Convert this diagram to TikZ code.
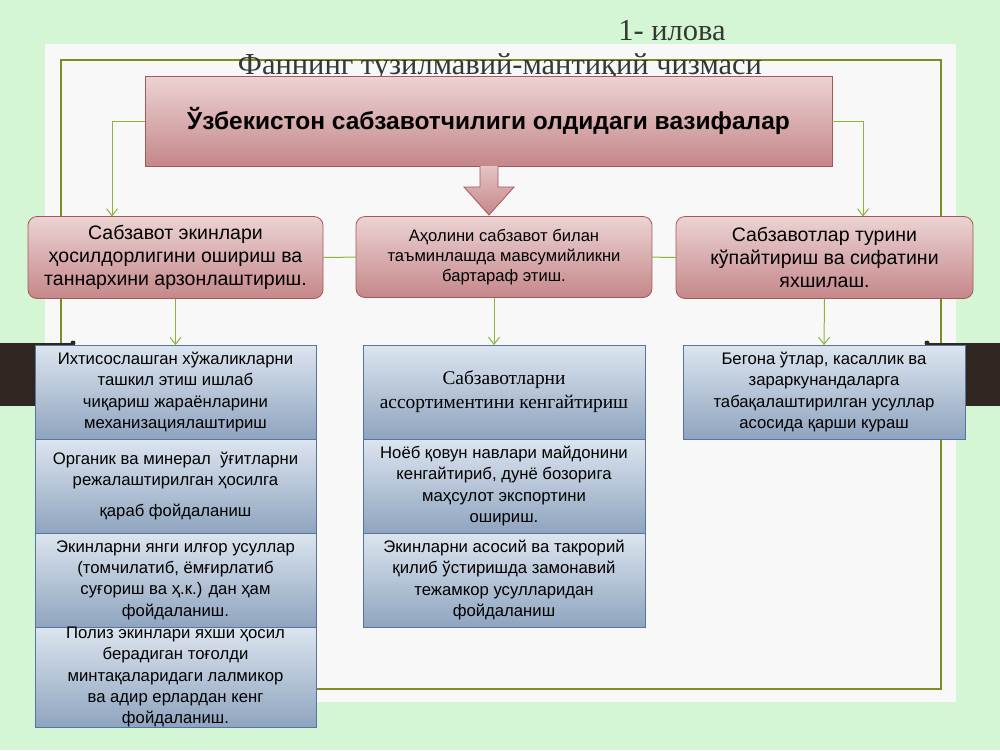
\documentclass[tikz,border=0pt]{standalone}
\usepackage{fontspec}
\setmainfont{Liberation Sans}
\newfontfamily\titlefont{Liberation Serif}
\usetikzlibrary{positioning,arrows.meta}
\definecolor{bgclr}{HTML}{D5F6D5}
\definecolor{panelclr}{HTML}{F8F8F8}
\definecolor{frameclr}{HTML}{7F8C22}
\definecolor{linkclr}{HTML}{8DB43A}
\definecolor{barclr}{HTML}{2F2621}
\definecolor{pinktop}{HTML}{ECD3D3}
\definecolor{pinkbot}{HTML}{C5878A}
\definecolor{pinkline}{HTML}{A5575A}
\definecolor{bluetop}{HTML}{DCE5EF}
\definecolor{bluebot}{HTML}{8FA4BF}
\definecolor{blueline}{HTML}{5475A0}
\definecolor{headclr}{HTML}{333A33}
\tikzset{ %
  ,>={Straight Barb[length=7pt,width=11pt,line width=1pt]}
  ,goal/.style={draw=pinkline, line width=0.8pt, top color=pinktop, bottom color=pinkbot, inner sep=0, outer sep=0, font=\fontsize{24.5}{28}\selectfont\bfseries}
  ,task/.style={draw=pinkline, line width=0.8pt, rounded corners=9pt, top color=pinktop, bottom color=pinkbot, align=center, inner sep=0, outer sep=0, font=\fontsize{19.5}{23}\selectfont}
  ,item/.style={draw=blueline, line width=0.8pt, top color=bluetop, bottom color=bluebot, align=center, inner sep=0, outer sep=0, minimum width=281pt, minimum height=94pt, font=\fontsize{16.7}{21.3}\selectfont}
  ,link/.style={draw=linkclr, line width=1pt}
  ,headtxt/.style={text=headclr, inner sep=0, font=\titlefont\fontsize{30.5}{32}\selectfont}
}
\begin{document}
\begin{tikzpicture}[x=1pt, y=-1pt]
  \useasboundingbox (0,0) rectangle (1000,750);
  % background and sheet
  \fill[bgclr] (0,0) rectangle (1000,750);
  \fill[panelclr] (45,44) rectangle (956,702);
  \draw[frameclr, line width=1.5pt] (61,60) rectangle (941,689);
  \fill[barclr] (0,343) rectangle (73,406);
  \fill[barclr] (73,343) circle (2.5);
  \fill[barclr] (927,343) rectangle (1000,406);
  \fill[barclr] (927,343) circle (2.5);

  \node[headtxt] (sheet) at (672,31) {1- илова};
  \node[headtxt] (title) at (500,67) {Фаннинг тузилмавий-мантиқий чизмаси};

  % top box and block arrow
  \node[goal, minimum width=687pt, minimum height=90pt] (goal) at (488.5,121) {Ўзбекистон сабзавотчилиги олдидаги вазифалар};
  \shade[top color=pinktop!80!pinkbot, bottom color=pinkbot, draw=pinkline, line width=0.8pt]
    (480,166) -- (480,187) -- (464,187) -- (489,215) -- (514,187) -- (498,187) -- (498,166);

  % second row
  \node[task, minimum width=295pt, minimum height=82pt] (taskL) at (175.5,257.5) {Сабзавот экинлари\\ ҳосилдорлигини ошириш ва\\ таннархини арзонлаштириш.};
  \node[task, minimum width=296pt, minimum height=81pt, font=\fontsize{16.6}{20}\selectfont] (taskM) at (504,257) {Аҳолини сабзавот билан\\ таъминлашда мавсумийликни\\ бартараф этиш.};
  \node[task, minimum width=297pt, minimum height=82pt] (taskR) at (824.5,257.5) {Сабзавотлар турини\\ кўпайтириш ва сифатини\\ яхшилаш.};

  \coordinate (turnL) at (112,121);
  \coordinate (turnR) at (863,121);
  \draw[link, ->] (goal.west) -- (turnL) -- (turnL |- taskL.north);
  \draw[link, ->] (goal.east) -- (turnR) -- (turnR |- taskR.north);
  \draw[link] (taskL) -- (taskM);
  \draw[link] (taskM) -- (taskR);

  % third row
  \node[item, anchor=north] (itemL1) at (175.5,345) {Ихтисослашган хўжаликларни\\ ташкил этиш ишлаб\\ чиқариш жараёнларини\\ механизациялаштириш};
  \node[item, below=0pt of itemL1] (itemL2) {Органик ва минерал\ \ ўғитларни\\ режалаштирилган ҳосилга\\[9pt] қараб фойдаланиш};
  \node[item, below=0pt of itemL2] (itemL3) {Экинларни янги илғор усуллар\\ (томчилатиб, ёмғирлатиб\\ суғориш ва ҳ.к.) дан ҳам\\ фойдаланиш.};
  \node[item, below=0pt of itemL3] (itemL4) {Полиз экинлари яхши ҳосил\\ берадиган тоғолди\\ минтақаларидаги лалмикор\\ ва адир ерлардан кенг\\ фойдаланиш.};

  \node[item, anchor=north, minimum width=282pt, font=\titlefont\fontsize{19.4}{24}\selectfont] (itemM1) at (504,345) {Сабзавотларни\\ ассортиментини кенгайтириш};
  \node[item, below=0pt of itemM1, minimum width=282pt] (itemM2) {Ноёб қовун навлари майдонини\\ кенгайтириб, дунё бозорига\\ маҳсулот экспортини\\ ошириш.};
  \node[item, below=0pt of itemM2, minimum width=282pt] (itemM3) {Экинларни асосий ва такрорий\\ қилиб ўстиришда замонавий\\ тежамкор усулларидан\\ фойдаланиш};

  \node[item, anchor=north, minimum width=282pt] (itemR1) at (824,345) {Бегона ўтлар, касаллик ва\\ зараркунандаларга\\ табақалаштирилган усуллар\\ асосида қарши кураш};

  \draw[link, ->] (taskL.south) -- (itemL1.north);
  \draw[link, ->] ([xshift=-10pt]taskM.south) -- ([xshift=-10pt]itemM1.north);
  \draw[link, ->] (taskR.south) -- (itemR1.north);
\end{tikzpicture}
\end{document}
